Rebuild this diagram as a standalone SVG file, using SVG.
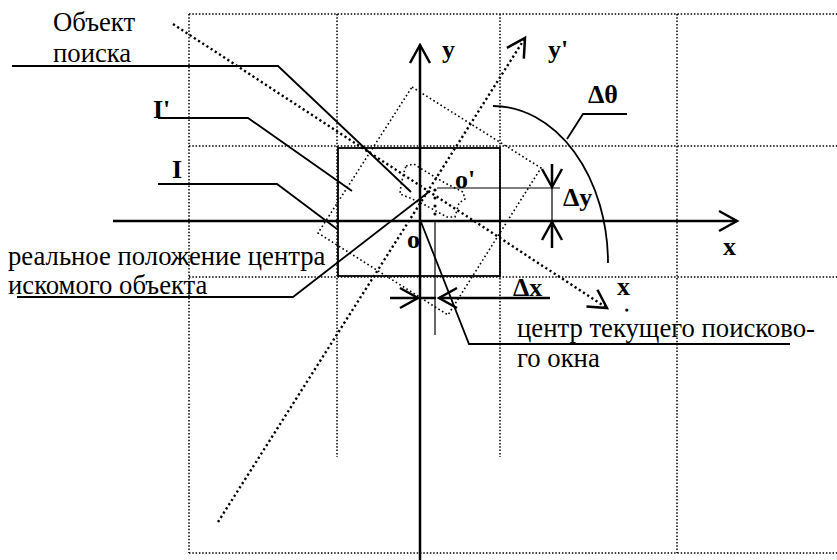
<svg xmlns="http://www.w3.org/2000/svg" width="837" height="560" viewBox="0 0 837 560">
<defs>
<marker id="arr" viewBox="-20 -12 22 24" refX="0" refY="0" markerWidth="22" markerHeight="24" markerUnits="userSpaceOnUse" orient="auto" overflow="visible">
<path d="M-18,-10 L0,0 L-18,10" fill="none" stroke="#000" stroke-width="2.5"/>
</marker>
</defs>
<style>
.grid{fill:none;stroke:#000;stroke-width:1.5;stroke-dasharray:1.5 1.8}
.rot{fill:none;stroke:#000;stroke-width:2.4;stroke-dasharray:2.2 2.8}
.rr{fill:none;stroke:#000;stroke-width:1.6;stroke-dasharray:1.6 2.6}
.ax{fill:none;stroke:#000;stroke-width:2.5}
.ln{fill:none;stroke:#000;stroke-width:1.8}
.th{fill:none;stroke:#000;stroke-width:1.2}
.t{font-family:"Liberation Serif","Times New Roman",serif;font-size:26.7px;fill:#000}
.b{font-family:"Liberation Serif","Times New Roman",serif;font-size:26px;font-weight:bold;fill:#000}
</style>
<rect width="837" height="560" fill="#fff"/>
<g id="grid">
<path class="grid" d="M189,14H837M189,146H837M189,277H837M189,553H837M189,14V553M337,14V457M500,14V457M677,14V553"/>
</g>
<g id="window-I">
<rect class="ln" x="338" y="148" width="162" height="128"/>
</g>
<g id="window-I-prime">
<polygon class="rr" points="412,87 541,168 448,315 318,233"/>
</g>
<g id="search-object">
<path class="rr" d="M406,166 L414,164 L420,168 L445,183 L463,192 L465,199 L459,203 L455,217 L447,217 L425,205 L410,198 L400,194 L401,185 L404,172 Z"/>
<path d="M435,190V220" fill="none" stroke="#000" stroke-width="3.2" stroke-linecap="round" stroke-dasharray="0 8"/>
</g>
<g id="axes">
<line class="ax" x1="113" y1="221" x2="737" y2="221" marker-end="url(#arr)"/>
<line class="ax" x1="420" y1="560" x2="420" y2="45" marker-end="url(#arr)"/>
<line class="rot" x1="218" y1="522" x2="525" y2="38" marker-end="url(#arr)"/>
<line class="rot" x1="173" y1="24" x2="607" y2="308" marker-end="url(#arr)"/>
</g>
<g id="offsets">
<line class="th" x1="437" y1="188" x2="560" y2="188"/>
<line class="th" x1="552" y1="188" x2="552" y2="221"/>
<line class="ax" x1="552" y1="164" x2="552" y2="187" marker-end="url(#arr)"/>
<line class="ax" x1="552" y1="248" x2="552" y2="222" marker-end="url(#arr)"/>
<line class="th" x1="435" y1="222" x2="435" y2="335"/>
<line class="ax" x1="390" y1="298" x2="418" y2="298" marker-end="url(#arr)"/>
<line class="ax" x1="420" y1="298" x2="436" y2="298"/>
<line class="ax" x1="550" y1="298" x2="439" y2="298" marker-end="url(#arr)"/>
<path class="ln" d="M493,106 A115,157 0 0 1 608,263"/>
</g>
<g id="connectors">
<polyline class="ln" points="12,66 278,66 411,192"/>
<polyline class="ln" points="158,118 248,118 352,191"/>
<polyline class="ln" points="158,184 277,184 337,229"/>
<polyline class="ln" points="17,297 293,297 430,191"/>
<polyline class="ln" points="421,222 469,344 790,344"/>
<polyline class="ln" points="627,114 583,114 567,139"/>
</g>
<g id="labels">
<text class="t" x="53" y="31">Объект</text>
<text class="t" x="53" y="62">поиска</text>
<text class="b" x="153" y="118">I'</text>
<text class="b" x="172" y="178">I</text>
<text class="t" x="8" y="265">реальное положение центра</text>
<text class="t" x="8" y="294">искомого объекта</text>
<text class="b" x="407" y="248">o</text>
<text class="b" x="455" y="188">o'</text>
<text class="b" x="442" y="58">y</text>
<text class="b" x="548" y="58">y'</text>
<text class="b" x="588" y="103">Δθ</text>
<text class="b" x="563" y="206">Δy</text>
<text class="b" x="723" y="255">x</text>
<text class="b" x="617" y="295">x</text>
<text class="b" x="625.5" y="311" style="font-size:10px;stroke:#000;stroke-width:1.4">.</text>
<text class="b" x="513" y="296">Δx</text>
<text class="t" x="517" y="337">центр текущего поисково-</text>
<text class="t" x="517" y="367">го окна</text>
</g>
</svg>
